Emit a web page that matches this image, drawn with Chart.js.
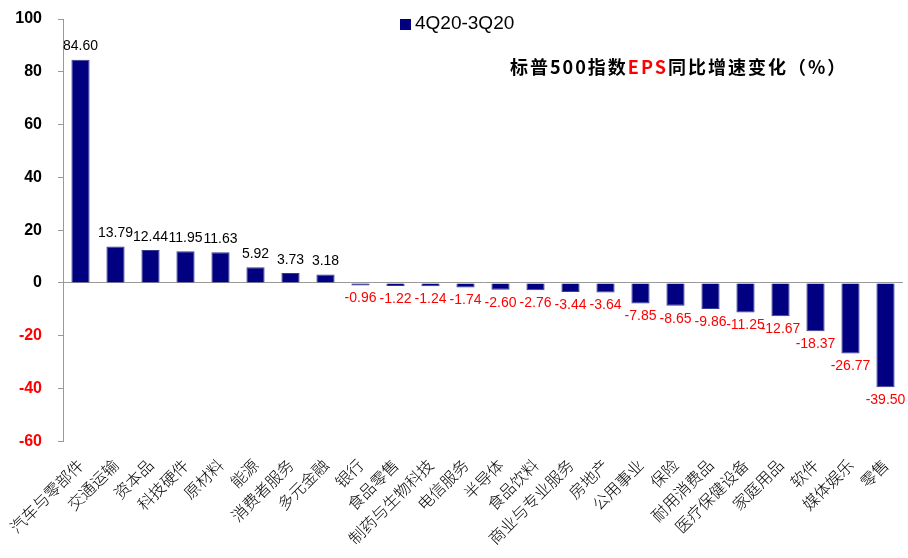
<!DOCTYPE html>
<html lang="zh">
<head>
  <meta charset="UTF-8">
  <title>标普500指数EPS同比增速变化</title>
  <script src="https://cdn.jsdelivr.net/npm/chart.js"></script>
  <style>
    body { margin: 0; background: #fff; }
    #wrap { width: 908px; height: 558px; position: relative; }
  </style>
</head>
<body>
  <div id="wrap"><canvas id="c"></canvas></div>
  <script>
    // 行业
    const categories = ['汽车与零部件', '交通运输', '资本品', '科技硬件', '原材料', '能源', '消费者服务', '多元金融',
      '银行', '食品零售', '制药与生物科技', '电信服务', '半导体', '食品饮料', '商业与专业服务', '房地产',
      '公用事业', '保险', '耐用消费品', '医疗保健设备', '家庭用品', '软件', '媒体娱乐', '零售'];
    // 4Q20-3Q20
    const seriesName = '4Q20-3Q20';
    const epsChange = [84.60, 13.79, 12.44, 11.95, 11.63, 5.92, 3.73, 3.18,
      -0.96, -1.22, -1.24, -1.74, -2.60, -2.76, -3.44, -3.64,
      -7.85, -8.65, -9.86, -11.25, -12.67, -18.37, -26.77, -39.50];
    const yTicks = [-60, -40, -20, 0, 20, 40, 60, 80, 100];

    const navy = '#000080';

    // 数值标签、图例和标题
    const overlay = {
      id: 'overlay',
      afterDatasetsDraw(chart) {
        const ctx = chart.ctx;
        const meta = chart.getDatasetMeta(0);
        ctx.save();
        ctx.font = '14px "Liberation Sans", Arial, sans-serif';
        ctx.textAlign = 'center';
        meta.data.forEach((bar, i) => {
          const v = epsChange[i];
          if (v >= 0) {
            ctx.fillStyle = '#000';
            ctx.textBaseline = 'bottom';
            ctx.fillText(v.toFixed(2), bar.x, bar.y - 6);
          } else {
            ctx.fillStyle = '#ff0000';
            ctx.textBaseline = 'top';
            ctx.fillText(v.toFixed(2), bar.x, bar.y + 6);
          }
        });

        // 图例
        ctx.fillStyle = navy;
        ctx.fillRect(400, 19, 11, 11);
        ctx.fillStyle = '#000';
        ctx.textAlign = 'left';
        ctx.textBaseline = 'middle';
        ctx.font = '19px "Liberation Sans", Arial, sans-serif';
        ctx.fillText(seriesName, 415, 24);

        // 标题
        const parts = [
          ['标普', '#000'], ['500', '#000'], ['指数', '#000'], ['EPS', '#ff0000'],
          ['同比增速变化（%）', '#000']
        ];
        ctx.font = 'bold 18px "Noto Sans CJK SC", sans-serif';
        ctx.letterSpacing = '2px';
        let x = 510;
        parts.forEach(([t, col]) => {
          ctx.fillStyle = col;
          ctx.fillText(t, x, 67);
          x += ctx.measureText(t).width;
        });
        ctx.restore();
      }
    };

    new Chart(document.getElementById('c'), {
      type: 'bar',
      data: {
        labels: categories,
        datasets: [{
          label: seriesName,
          data: epsChange,
          backgroundColor: navy,
          borderColor: '#3a3a90',
          borderWidth: 1,
          categoryPercentage: 1,
          barPercentage: 0.52
        }]
      },
      options: {
        responsive: true,
        maintainAspectRatio: false,
        animation: false,
        layout: { padding: { top: 19, left: 4, right: 5, bottom: 4 } },
        plugins: {
          legend: { display: false },
          tooltip: { enabled: false }
        },
        scales: {
          x: {
            afterFit(scale) {
              scale.paddingLeft = 0;
              scale.paddingRight = 0;
            },
            grid: { display: false },
            border: { display: false },
            ticks: {
              autoSkip: false,
              minRotation: 45,
              maxRotation: 45,
              padding: 6,
              color: '#000',
              font: { family: '"Noto Sans CJK SC", sans-serif', size: 16, weight: '300' }
            }
          },
          y: {
            min: yTicks[0],
            max: yTicks[yTicks.length - 1],
            afterBuildTicks(scale) {
              scale.ticks = yTicks.map(v => ({ value: v }));
            },
            afterFit(scale) {
              scale.width = 59;
              scale.paddingTop = 0;
              scale.paddingBottom = 0;
            },
            border: { color: '#999', width: 1 },
            grid: {
              drawOnChartArea: true,
              color: ctx => ctx.tick && ctx.tick.value === 0 ? '#999' : 'rgba(0,0,0,0)',
              tickColor: '#999',
              tickLength: 5
            },
            ticks: {
              padding: 16,
              color: ctx => ctx.tick.value < 0 ? '#ff0000' : '#000',
              font: { family: '"Liberation Sans", Arial, sans-serif', size: 16, weight: 'bold' }
            }
          }
        }
      },
      plugins: [overlay]
    });
  </script>
</body>
</html>
